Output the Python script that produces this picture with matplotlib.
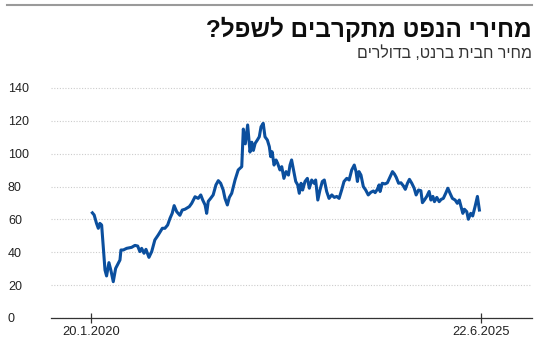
import matplotlib.pyplot as plt
import pandas as pd

# Brent price, USD per barrel
dates = [
    "2020-01-27", "2020-02-05", "2020-02-17", "2020-02-26", "2020-03-05", "2020-03-14",
    "2020-03-22", "2020-03-31", "2020-04-08", "2020-04-20", "2020-04-30", "2020-05-12",
    "2020-05-24", "2020-06-06", "2020-06-15", "2020-06-20", "2020-07-02", "2020-07-19",
    "2020-08-13", "2020-08-30", "2020-09-13", "2020-09-24", "2020-10-03", "2020-10-15",
    "2020-10-25", "2020-11-09", "2020-11-23", "2020-12-09", "2020-12-26", "2021-01-16",
    "2021-01-29", "2021-02-12", "2021-02-24", "2021-03-07", "2021-03-17", "2021-03-30",
    "2021-04-15", "2021-04-27", "2021-05-11", "2021-05-19", "2021-06-02", "2021-06-14",
    "2021-07-01", "2021-07-17", "2021-07-30", "2021-08-09", "2021-08-21", "2021-08-29",
    "2021-09-06", "2021-09-18", "2021-10-01", "2021-10-15", "2021-10-27", "2021-11-08",
    "2021-11-21", "2021-11-30", "2021-12-12", "2021-12-22", "2022-01-03", "2022-01-20",
    "2022-02-05", "2022-02-23", "2022-03-03", "2022-03-13", "2022-03-25", "2022-04-06",
    "2022-04-15", "2022-04-23", "2022-05-02", "2022-05-13", "2022-05-23", "2022-06-01",
    "2022-06-12", "2022-06-21", "2022-07-03", "2022-07-13", "2022-07-20", "2022-07-27",
    "2022-08-06", "2022-08-16", "2022-08-24", "2022-09-05", "2022-09-14", "2022-09-25",
    "2022-10-06", "2022-10-18", "2022-10-26", "2022-11-03", "2022-11-11", "2022-11-24",
    "2022-12-04", "2022-12-12", "2022-12-21", "2022-12-29", "2023-01-10", "2023-01-22",
    "2023-02-01", "2023-02-13", "2023-02-25", "2023-03-05", "2023-03-16", "2023-03-27",
    "2023-04-08", "2023-04-18", "2023-04-30", "2023-05-12", "2023-05-26", "2023-06-08",
    "2023-06-20", "2023-07-02", "2023-07-15", "2023-07-27", "2023-08-10", "2023-08-22",
    "2023-09-04", "2023-09-17", "2023-09-26", "2023-10-03", "2023-10-11", "2023-10-21",
    "2023-11-02", "2023-11-14", "2023-11-27", "2023-12-10", "2023-12-23", "2024-01-01",
    "2024-01-12", "2024-01-21", "2024-01-26", "2024-02-06", "2024-02-20", "2024-03-03",
    "2024-03-17", "2024-03-29", "2024-04-08", "2024-04-17", "2024-04-29", "2024-05-11",
    "2024-05-24", "2024-06-02", "2024-06-13", "2024-06-23", "2024-07-05", "2024-07-17",
    "2024-07-27", "2024-08-08", "2024-08-20", "2024-08-28", "2024-09-07", "2024-09-19",
    "2024-10-01", "2024-10-10", "2024-10-20", "2024-10-28", "2024-11-09", "2024-11-21",
    "2024-12-01", "2024-12-12", "2024-12-24", "2025-01-04", "2025-01-15", "2025-01-27",
    "2025-02-10", "2025-02-21", "2025-03-03", "2025-03-12", "2025-03-21", "2025-03-29",
    "2025-04-10", "2025-04-18", "2025-04-30", "2025-05-10", "2025-05-22", "2025-06-03",
    "2025-06-13",
]
brent = [
    64.0, 62.7, 57.6, 54.6, 57.6, 56.6,
    43.4, 29.2, 25.6, 33.7, 29.0, 22.1,
    30.2, 33.3, 35.3, 41.4, 41.4, 42.4,
    43.0, 44.2, 43.8, 40.4, 42.4, 39.4,
    41.8, 36.9, 40.4, 47.5, 50.5, 54.6,
    54.6, 56.6, 60.7, 63.7, 68.4, 64.7,
    62.5, 65.7, 66.2, 66.8, 67.8, 69.8,
    73.8, 72.8, 74.9, 71.8, 68.8, 63.7,
    71.0, 72.8, 74.9, 81.0, 83.6, 82.0,
    77.9, 72.8, 68.8, 73.4, 75.9, 84.0,
    90.1, 92.1, 115.0, 106.0, 117.5, 101.0,
    107.0, 102.0, 106.3, 108.3, 110.3, 116.4,
    118.5, 110.3, 108.3, 104.3, 98.2, 101.2,
    93.1, 96.2, 94.2, 90.1, 92.1, 85.0,
    89.1, 87.0, 93.1, 96.2, 91.1, 83.1,
    81.0, 75.9, 82.0, 77.9, 83.1, 85.0,
    79.0, 84.0, 82.0, 84.0, 71.8, 77.9,
    83.1, 84.0, 77.0, 72.8, 74.9, 73.4,
    74.0, 72.8, 77.9, 83.1, 85.0, 84.0,
    90.1, 93.1, 89.1, 83.1, 89.1, 87.0,
    80.0, 77.9, 74.9, 76.5, 77.3, 76.3,
    78.3, 81.0, 77.0, 82.0, 81.6, 82.3,
    86.0, 89.1, 87.6, 85.6, 82.0, 82.3,
    80.3, 78.3, 82.0, 84.4, 82.0, 79.0,
    74.9, 77.9, 77.5, 70.2, 71.8, 74.0,
    77.0, 71.8, 74.0, 70.8, 73.4, 70.8,
    72.2, 72.8, 75.9, 79.0, 75.9, 72.8,
    71.8, 69.8, 71.8, 67.8, 63.7, 66.2,
    64.7, 60.1, 63.7, 62.1, 67.8, 74.0,
    65.7,
]

y_ticks = [0, 20, 40, 60, 80, 100, 120, 140]
x_ticks = ["2020-01-20", "2025-06-22"]
x_tick_labels = ["20.1.2020", "22.6.2025"]

title = "מחירי הנפט מתקרבים לשפל?"
subtitle = "מחיר חבית ברנט, בדולרים"

plt.rcParams['font.family'] = ['Liberation Sans', 'DejaVu Sans']

fig = plt.figure(figsize=(5.5, 3.53), dpi=100)
ax = fig.add_axes([51 / 550, 35 / 353, 481 / 550, 231 / 353])

x = pd.to_datetime(dates)
ax.plot(x, brent, color='#0b4f9e', lw=2.2, solid_joinstyle='round', zorder=3)

ax.set_ylim(0, 140.6)
ax.set_xlim(pd.Timestamp("2019-07-01"), pd.Timestamp("2026-03-07"))

ax.set_yticks(y_ticks)
ax.set_yticklabels([str(v) for v in y_ticks])
ax.tick_params(axis='y', length=0, pad=31, labelsize=9, labelcolor='#222222')
for lab in ax.get_yticklabels():
    lab.set_horizontalalignment('left')

ax.set_xticks(pd.to_datetime(x_ticks))
ax.set_xticklabels(x_tick_labels)
ax.tick_params(axis='x', direction='inout', length=7.5, width=0.9, color='#333333',
               labelsize=9.3, labelcolor='#222222', pad=2)

ax.grid(axis='y', linestyle=(0, (1, 1.5)), color='#cccccc', lw=0.8)
ax.grid(axis='x', visible=False)
for s in ['top', 'right', 'left']:
    ax.spines[s].set_visible(False)
ax.spines['bottom'].set_color('#333333')
ax.spines['bottom'].set_linewidth(0.9)
ax.set_axisbelow(True)

# top rule
fig.add_artist(plt.Line2D([7 / 550, 532 / 550], [1 - 5 / 353, 1 - 5 / 353],
                          color='#9a9a9a', lw=1.5))

# matplotlib has no bidi support, so Hebrew strings are reversed for display
fig.text(532 / 550, 1 - 29 / 353, title[::-1], ha='right', va='center',
         fontsize=17.5, fontweight='bold', color='#0d0d0d')
fig.text(532 / 550, 1 - 53 / 353, subtitle[::-1], ha='right', va='center',
         fontsize=11.4, color='#333333')

plt.savefig('out.png', dpi=100)
